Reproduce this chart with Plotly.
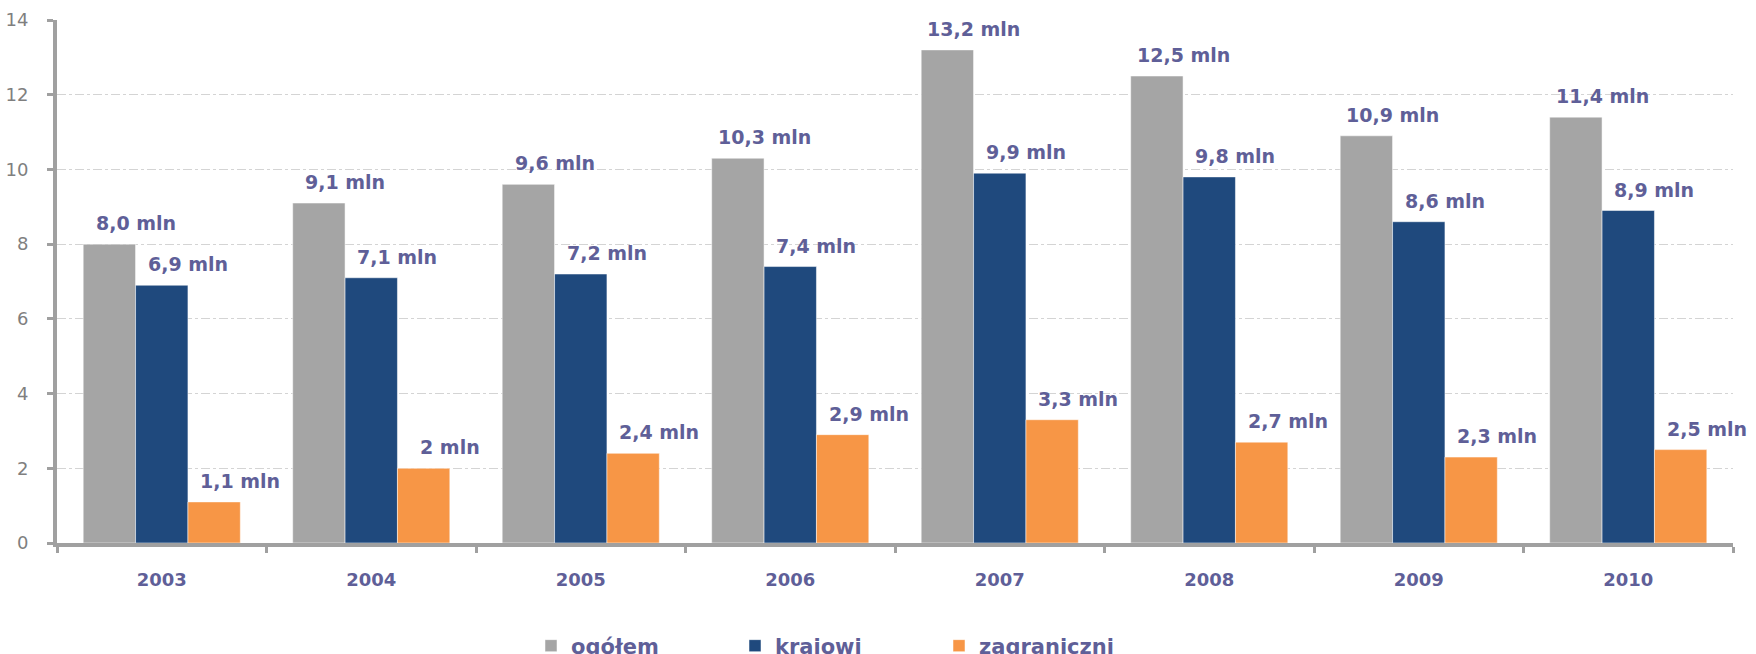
import plotly.graph_objects as go

years = ["2003", "2004", "2005", "2006", "2007", "2008", "2009", "2010"]
ogolem = [8.0, 9.1, 9.6, 10.3, 13.2, 12.5, 10.9, 11.4]
krajowi = [6.9, 7.1, 7.2, 7.4, 9.9, 9.8, 8.6, 8.9]
zagraniczni = [1.1, 2.0, 2.4, 2.9, 3.3, 2.7, 2.3, 2.5]
labels_ogolem = ["8,0 mln", "9,1 mln", "9,6 mln", "10,3 mln", "13,2 mln", "12,5 mln", "10,9 mln", "11,4 mln"]
labels_krajowi = ["6,9 mln", "7,1 mln", "7,2 mln", "7,4 mln", "9,9 mln", "9,8 mln", "8,6 mln", "8,9 mln"]
labels_zagr = ["1,1 mln", "2 mln", "2,4 mln", "2,9 mln", "3,3 mln", "2,7 mln", "2,3 mln", "2,5 mln"]

series = [
    ("ogółem", ogolem, labels_ogolem, "#A5A5A5"),
    ("krajowi", krajowi, labels_krajowi, "#1F497D"),
    ("zagraniczni", zagraniczni, labels_zagr, "#F79646"),
]

LABEL_COLOR = "#5F5F98"
FONT = "DejaVu Sans"

fig = go.Figure()
for name, vals, _, col in series:
    fig.add_trace(go.Bar(x=years, y=vals, name=name, marker_color=col,
                         marker_line=dict(color="white", width=0.5)))

W, H = 1756, 654
ml, mr, mt, mb = 57, 23, 20, 111
plot_w = W - ml - mr
plot_h = H - mt - mb
bargap = 0.25
bar_frac = (1 - bargap) / 3

for k, (name, vals, labs, col) in enumerate(series):
    for i, (v, lab) in enumerate(zip(vals, labs)):
        fig.add_annotation(x=i + (k - 1) * bar_frac + bar_frac / 2, y=v, text=lab,
                           showarrow=False, xref="x", yref="y", yshift=21,
                           font=dict(family=FONT, size=19, color=LABEL_COLOR, weight="bold"))

fig.update_layout(
    width=W, height=H,
    margin=dict(l=ml, r=mr, t=mt, b=mb, autoexpand=False),
    plot_bgcolor="white", paper_bgcolor="white",
    barmode="group", bargap=bargap, bargroupgap=0,
    showlegend=True,
    legend=dict(orientation="h", x=(531 - ml) / plot_w, xanchor="left",
                y=-(646 - (H - mb)) / plot_h, yanchor="middle",
                font=dict(family=FONT, size=21, color=LABEL_COLOR, weight="bold"),
                entrywidth=159, entrywidthmode="pixels", itemclick=False,
                bgcolor="rgba(0,0,0,0)"),
)
fig.update_xaxes(
    type="category", range=[-0.5, len(years) - 0.5],
    showline=True, linecolor="#A0A0A0", linewidth=4,
    ticks="outside", tickson="boundaries", ticklen=6, tickwidth=3, tickcolor="#A0A0A0",
    tickfont=dict(family=FONT, size=18, color=LABEL_COLOR, weight="bold"),
    ticklabelstandoff=17,
)
fig.update_yaxes(
    range=[0, 14], dtick=2,
    showline=True, linecolor="#A0A0A0", linewidth=4,
    ticks="outside", ticklen=6, tickwidth=3, tickcolor="#A0A0A0",
    tickfont=dict(family=FONT, size=18, color="#7F7F7F"),
    showgrid=True, gridcolor="#D4D4D4", gridwidth=1, griddash="dashdot",
    zeroline=False, ticklabelstandoff=15,
)

fig.write_html("out.html")
